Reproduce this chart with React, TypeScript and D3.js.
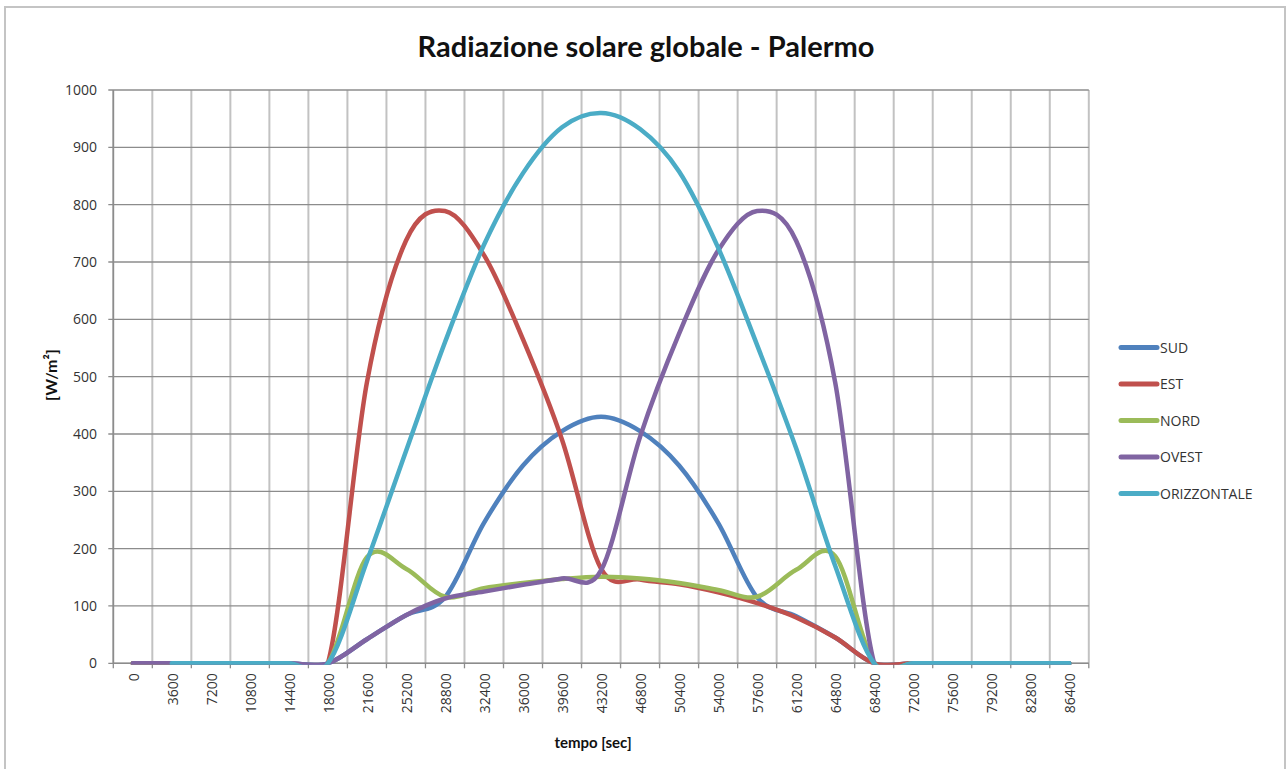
import * as d3 from "d3";

const categories = [
  0, 3600, 7200, 10800, 14400, 18000, 21600, 25200, 28800, 32400, 36000, 39600,
  43200, 46800, 50400, 54000, 57600, 61200, 64800, 68400, 72000, 75600, 79200,
  82800, 86400,
];

const sud = [0, 0, 0, 0, 0, 0, 42, 84, 115, 245, 345, 405, 430, 405, 345, 245, 115, 82, 45, 0, 0, 0, 0, 0, 0];
const est = [0, 0, 0, 0, 0, 0, 490, 737, 789, 712, 565, 390, 165, 146, 138, 124, 105, 80, 45, 0, 0, 0, 0, 0, 0];
const nord = [0, 0, 0, 0, 0, 0, 185, 165, 116, 131, 140, 147, 151, 148, 140, 128, 116, 163, 187, 0, 0, 0, 0, 0, 0];
const ovest = [0, 0, 0, 0, 0, 0, 42, 84, 113, 125, 137, 148, 162, 395, 575, 720, 789, 737, 490, 0, 0, 0, 0, 0, 0];
const orizzontale = [null, 0, 0, 0, 0, 0, 178, 370, 560, 730, 855, 935, 960, 932, 858, 725, 555, 375, 170, 0, 0, 0, 0, 0, 0];

const yTicks = [0, 100, 200, 300, 400, 500, 600, 700, 800, 900, 1000];

const series = [
  { name: "SUD", values: sud, color: "#4F81BD" },
  { name: "EST", values: est, color: "#C0504D" },
  { name: "NORD", values: nord, color: "#9BBB59" },
  { name: "OVEST", values: ovest, color: "#8064A2" },
  { name: "ORIZZONTALE", values: orizzontale, color: "#4BACC6" },
];

const W = 1287;
const H = 769;
const plot = { left: 113.3, right: 1088.8, top: 90, bottom: 663.3 };
const font = "Lato, 'Open Sans', sans-serif";
const smallFont = "'Open Sans', Lato, sans-serif";

export default function App() {
  const x = d3
    .scaleBand<number>()
    .domain(categories)
    .range([plot.left, plot.right])
    .paddingInner(0)
    .paddingOuter(0);
  const y = d3.scaleLinear().domain([0, 1000]).range([plot.bottom, plot.top]);
  const bw = x.bandwidth();
  const cx = (c: number) => (x(c) ?? 0) + bw / 2;

  const line = d3
    .line<number | null>()
    .defined((d) => d != null)
    .x((_, i) => cx(categories[i]))
    .y((d) => y(d as number))
    .curve(d3.curveCardinal.tension(0));

  // gridlines sit on the category boundaries
  const bounds = [...categories.map((c) => x(c) ?? 0), plot.right];

  return (
    <svg
      width={W}
      height={H}
      viewBox={`0 0 ${W} ${H}`}
      style={{ position: "absolute", left: 0, top: 0, background: "#fff" }}
      fontFamily={font}
    >
      <defs>
        <clipPath id="plot-clip">
          <rect
            x={plot.left - 10}
            y={plot.top - 10}
            width={plot.right - plot.left + 20}
            height={plot.bottom - plot.top + 11.5}
          />
        </clipPath>
      </defs>
      <rect x={5} y={7} width={1280} height={800} fill="#fff" stroke="#c4c4c4" strokeWidth={2} />

      <text x={646} y={57} textAnchor="middle" fontSize={29} fontWeight={700} fill="#111">
        Radiazione solare globale - Palermo
      </text>

      {bounds.map((b, i) => (
        <line key={`v${i}`} x1={b} x2={b} y1={plot.top} y2={plot.bottom} stroke="#c2c2c2" strokeWidth={2} />
      ))}
      {yTicks.map((t) => (
        <g key={`h${t}`}>
          <line x1={plot.left - 5} x2={plot.right} y1={y(t)} y2={y(t)} stroke="#8c8c8c" strokeWidth={1.3} />
          <text x={97} y={y(t)} dy="0.35em" textAnchor="end" fontSize={14} fill="#333" fontFamily={smallFont}>
            {t}
          </text>
        </g>
      ))}
      <line x1={plot.left} x2={plot.left} y1={plot.top} y2={plot.bottom} stroke="#8c8c8c" strokeWidth={1.5} />
      <line x1={plot.left} x2={plot.right} y1={plot.bottom} y2={plot.bottom} stroke="#8c8c8c" strokeWidth={1.5} />
      {bounds.map((b, i) => (
        <line key={`t${i}`} x1={b} x2={b} y1={plot.bottom} y2={plot.bottom + 5} stroke="#8c8c8c" strokeWidth={1.3} />
      ))}
      {categories.map((c) => (
        <text
          key={`xl${c}`}
          transform={`translate(${cx(c) + 1},${plot.bottom + 10}) rotate(-90)`}
          textAnchor="end"
          dy="0.35em"
          fontSize={14}
          fill="#333"
          fontFamily={smallFont}
        >
          {c}
        </text>
      ))}

      <g clipPath="url(#plot-clip)">
        {series.map((s) => (
          <path
            key={s.name}
            d={line(s.values) ?? ""}
            fill="none"
            stroke={s.color}
            strokeWidth={4.5}
            strokeLinecap="round"
            strokeLinejoin="round"
          />
        ))}
      </g>

      <text x={593} y={748} textAnchor="middle" fontSize={15} fontWeight={700} fill="#111">
        tempo [sec]
      </text>
      <text
        transform={`translate(57,375) rotate(-90)`}
        textAnchor="middle"
        fontSize={16}
        fontWeight={700}
        fill="#111"
      >
        [W/m²]
      </text>

      {series.map((s, i) => {
        const ly = 347.5 + i * 36.5;
        return (
          <g key={`lg${s.name}`}>
            <line x1={1121} x2={1157} y1={ly} y2={ly} stroke={s.color} strokeWidth={5} strokeLinecap="round" />
            <text x={1160} y={ly} dy="0.36em" fontSize={14} fill="#333" fontFamily={smallFont}>
              {s.name}
            </text>
          </g>
        );
      })}
    </svg>
  );
}
